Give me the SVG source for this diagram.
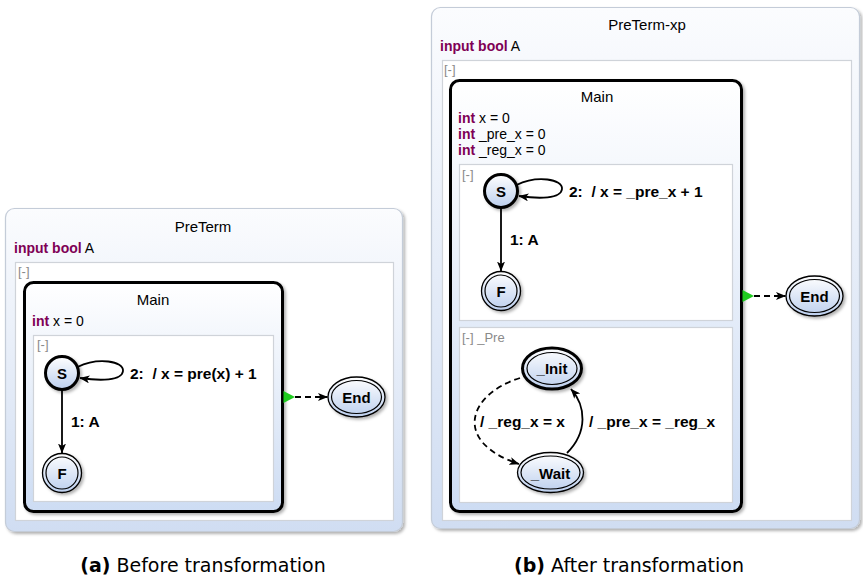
<svg xmlns="http://www.w3.org/2000/svg" width="863" height="577" viewBox="0 0 863 577">
<defs>
<linearGradient id="gState" x1="0" y1="0" x2="0" y2="1"><stop offset="0" stop-color="#ffffff"/><stop offset="1" stop-color="#bccfee"/></linearGradient>
<linearGradient id="gMain" x1="0" y1="0" x2="0" y2="1"><stop offset="0" stop-color="#ffffff"/><stop offset="1" stop-color="#cddcf3"/></linearGradient>
<linearGradient id="gOuter" x1="0" y1="0" x2="0" y2="1"><stop offset="0" stop-color="#fbfcfe"/><stop offset="1" stop-color="#d0ddf2"/></linearGradient>
<filter id="sh" x="-20%" y="-20%" width="150%" height="150%"><feDropShadow dx="2" dy="2" stdDeviation="1.5" flood-color="#000" flood-opacity="0.3"/></filter>
<marker id="arr" viewBox="0 0 10 8" refX="9.5" refY="4" markerWidth="10" markerHeight="8" markerUnits="userSpaceOnUse" orient="auto"><path d="M0,0 L10,4 L0,8 L2.5,4 z" fill="#000"/></marker>
</defs>
<style>
.t{font-family:"Liberation Sans",Arial,sans-serif;fill:#000}
.title{font-size:15px;text-anchor:middle}
.decl{font-size:14px}
.kw{font-weight:bold;fill:#7f0055}
.br{font-size:13px;fill:#8a8a8a}
.lbl{font-size:15.5px;font-weight:bold;white-space:pre}
.sl{font-size:15px;font-weight:bold;text-anchor:middle}
.outer{fill:url(#gOuter);stroke:#c4ccd8;stroke-width:1.2}
.region{fill:#ffffff;stroke:#cfd3d9;stroke-width:1.2}
.main{fill:url(#gMain);stroke:#000;stroke-width:3}
.st{fill:url(#gState);stroke:#000;stroke-width:1.3}
.stI{fill:url(#gState);stroke:#000;stroke-width:3}
.in{fill:none;stroke:#000;stroke-width:1.2}
.e{fill:none;stroke:#000;stroke-width:1.8}
.d{fill:none;stroke:#000;stroke-width:1.8;stroke-dasharray:6 4}
.term{fill:#1fcc1f}
.cap{font-family:"DejaVu Sans",sans-serif;font-size:19px;text-anchor:middle;fill:#000}
</style>

<!-- Panel (a) -->
<g id="PreTerm">
<rect class="outer" x="5.5" y="208.5" width="397" height="323" rx="9" filter="url(#sh)"/>
<text class="t title" x="203" y="232">PreTerm</text>
<text class="t decl" x="14" y="253"><tspan class="kw">input bool</tspan> A</text>
<rect class="region" x="15.5" y="262.5" width="378" height="258"/>
<text class="t br" x="18" y="276">[-]</text>
</g>
<g id="Main_a">
<rect class="main" x="24.5" y="282.5" width="258" height="229" rx="9" filter="url(#sh)"/>
<text class="t title" x="153" y="305">Main</text>
<text class="t decl" x="32" y="326"><tspan class="kw">int</tspan> x = 0</text>
<rect class="region" x="33.5" y="335.5" width="240" height="166"/>
<text class="t br" x="37" y="349">[-]</text>
</g>
<g id="S_a">
<circle class="stI" cx="62" cy="373" r="16.5" filter="url(#sh)"/>
<text class="t sl" x="62" y="378.5">S</text>
</g>
<g id="F_a">
<circle class="st" cx="62" cy="473" r="19.5" filter="url(#sh)"/>
<circle class="in" cx="62" cy="473" r="16"/>
<text class="t sl" x="62" y="478.5">F</text>
</g>
<g id="End_a">
<ellipse class="st" cx="356.5" cy="397" rx="28.5" ry="20" filter="url(#sh)"/>
<ellipse class="in" cx="356.5" cy="397" rx="25" ry="16.5"/>
<text class="t sl" x="356.5" y="403">End</text>
</g>

<!-- Panel (b) -->
<g id="PreTerm-xp">
<rect class="outer" x="431.5" y="7.5" width="428" height="521" rx="9" filter="url(#sh)"/>
<text class="t title" x="647" y="30">PreTerm-xp</text>
<text class="t decl" x="440" y="51"><tspan class="kw">input bool</tspan> A</text>
<rect class="region" x="442.5" y="60.5" width="409" height="460"/>
<text class="t br" x="444" y="74">[-]</text>
</g>
<g id="Main_b">
<rect class="main" x="450.5" y="80.5" width="291" height="431" rx="9" filter="url(#sh)"/>
<text class="t title" x="597" y="102">Main</text>
<text class="t decl" x="458" y="123"><tspan class="kw">int</tspan> x = 0</text>
<text class="t decl" x="458" y="139"><tspan class="kw">int</tspan> _pre_x = 0</text>
<text class="t decl" x="458" y="155"><tspan class="kw">int</tspan> _reg_x = 0</text>
<rect class="region" x="459.5" y="164.5" width="273" height="156"/>
<text class="t br" x="462" y="179">[-]</text>
<rect class="region" x="459.5" y="327.5" width="273" height="175"/>
<text class="t br" x="462" y="342">[-] _Pre</text>
</g>
<g id="S_b">
<circle class="stI" cx="501" cy="191" r="16.5" filter="url(#sh)"/>
<text class="t sl" x="501" y="196.5">S</text>
</g>
<g id="F_b">
<circle class="st" cx="501" cy="291" r="19.5" filter="url(#sh)"/>
<circle class="in" cx="501" cy="291" r="16"/>
<text class="t sl" x="501" y="296.5">F</text>
</g>
<g id="End_b">
<ellipse class="st" cx="814.5" cy="296" rx="28.5" ry="20" filter="url(#sh)"/>
<ellipse class="in" cx="814.5" cy="296" rx="25" ry="16.5"/>
<text class="t sl" x="814.5" y="302">End</text>
</g>
<g id="Init">
<ellipse class="stI" cx="552" cy="368.5" rx="29.5" ry="20.5" filter="url(#sh)"/>
<ellipse class="in" cx="552" cy="368.5" rx="25" ry="16"/>
<text class="t sl" x="552" y="374">_Init</text>
</g>
<g id="Wait">
<ellipse class="st" cx="550.5" cy="472.5" rx="33" ry="20" filter="url(#sh)"/>
<ellipse class="in" cx="550.5" cy="472.5" rx="29.5" ry="16.5"/>
<text class="t sl" x="550.5" y="478.5">_Wait</text>
</g>

<!-- Connectors -->
<g id="connectors">
<path class="e" d="M77.5,367 C98,357 124,361 123,371 C122,381 100,381 80,378" marker-end="url(#arr)"/>
<path class="e" d="M62,389.5 L62,453" marker-end="url(#arr)"/>
<polygon class="term" points="283.5,391 283.5,403 295,397"/>
<path class="d" d="M295,397 L327.5,397" marker-end="url(#arr)"/>

<path class="e" d="M516.5,185 C537,175 563,179 562,189 C561,199 539,199 519,196" marker-end="url(#arr)"/>
<path class="e" d="M501,207.5 L501,271" marker-end="url(#arr)"/>
<polygon class="term" points="742.5,290 742.5,302 754,296"/>
<path class="d" d="M754,296 L785.5,296" marker-end="url(#arr)"/>

<path class="d" d="M520,378 C468,394 452,442 519,464" marker-end="url(#arr)"/>
<path class="e" d="M567,453 C588,432 586,406 571,389" marker-end="url(#arr)"/>
</g>

<!-- Transition labels -->
<g id="labels">
<text class="t lbl" x="130" y="379" xml:space="preserve">2:  / x = pre(x) + 1</text>
<text class="t lbl" x="71" y="427">1: A</text>
<text class="t lbl" x="569" y="197" xml:space="preserve">2:  / x = _pre_x + 1</text>
<text class="t lbl" x="510" y="245">1: A</text>
<text class="t lbl" x="480" y="427">/ _reg_x = x</text>
<text class="t lbl" x="589" y="427">/ _pre_x = _reg_x</text>
</g>

<text class="cap" x="203" y="572"><tspan font-weight="bold">(a)</tspan> Before transformation</text>
<text class="cap" x="629" y="572"><tspan font-weight="bold">(b)</tspan> After transformation</text>
</svg>
